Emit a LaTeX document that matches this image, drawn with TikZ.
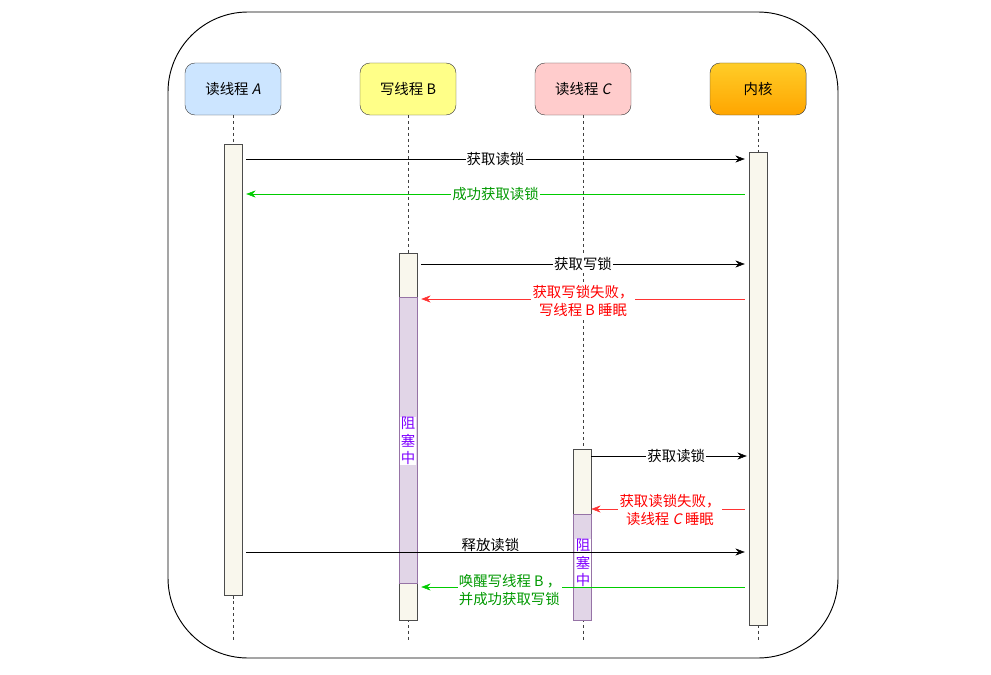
\documentclass[tikz,border=0pt]{standalone}
\usepackage{fontspec}
\setmainfont{Noto Sans CJK SC}
\newfontfamily\slantcjk[FakeSlant=0.2]{Noto Sans CJK SC}
\usetikzlibrary{arrows.meta,fit}

\definecolor{threadA}{HTML}{CCE5FF}
\definecolor{threadB}{HTML}{FFFF88}
\definecolor{threadC}{HTML}{FFCCCC}
\definecolor{kernTop}{HTML}{FFCD28}
\definecolor{kernBot}{HTML}{FFA500}
\definecolor{actFill}{HTML}{F9F7ED}
\definecolor{blkFill}{HTML}{E1D5E7}
\definecolor{blkDraw}{HTML}{9673A6}
\definecolor{blkText}{HTML}{7F00FF}
\definecolor{okLine}{HTML}{00CC00}
\definecolor{okText}{HTML}{009900}
\definecolor{failLine}{HTML}{FF3333}
\definecolor{failText}{HTML}{FF0000}

\begin{document}
\begin{tikzpicture}[x=0.03cm, y=-0.03cm, inner sep=1pt,
    txt/.style={font=\fontsize{12.3}{14.7}\selectfont},
    head/.style={txt, draw=black!75, rounded corners=0.3cm,
      minimum width=2.88cm, minimum height=1.56cm},
    life/.style={black!75, dash pattern=on 2.5pt off 2.5pt},
    act/.style={draw=black!70, fill=actFill, inner sep=0pt},
    blk/.style={draw=blkDraw, fill=blkFill, inner sep=0pt},
    blocked/.style={txt, fill=white, text=blkText, align=center, inner sep=0.5pt},
    msg/.style={-{Stealth[length=8pt,width=6pt]}, shorten <=0.12cm, shorten >=0.12cm},
    lbl/.style={txt, fill=white, align=center}]
  \useasboundingbox (0,0) rectangle (991,674);
  \draw[line width=0.8pt, rounded corners=2.4cm] (168,12) rectangle (838,658);

  % lifeline heads
  \node[head, fill=threadA] (thA) at (233,89) {读线程 {\slantcjk A}};
  \node[head, fill=threadB] (thB) at (408,89) {写线程 B};
  \node[head, fill=threadC] (thC) at (583,89) {读线程 {\slantcjk C}};
  \node[head, top color=kernTop, bottom color=kernBot] (kern) at (758,89) {内核};

  \coordinate (endA) at (233,640);
  \coordinate (endB) at (408,640);
  \coordinate (endC) at (583,640);
  \coordinate (endK) at (758,640);
  \draw[life] (thA) -- (endA);
  \draw[life] (thB) -- (endB);
  \draw[life] (thC) -- (endC);
  \draw[life] (kern) -- (endK);

  % activations
  \node[act, fit={(224,144) (242,595)}] (actA) {};
  \node[act, fit={(399,253) (417,620)}] (actB) {};
  \node[blk, fit={(399,297) (417,583)}] (blkB) {};
  \node[act, fit={(573,449) (591,620)}] (actC) {};
  \node[blk, fit={(573,514) (591,620)}] (blkC) {};
  \node[act, fit={(749,152) (767,625)}] (actK) {};
  \node[blocked] (waitB) at (408,441) {阻\\塞\\中};
  \node[blocked] (waitC) at (583,563) {阻\\塞\\中};

  % message rows
  \coordinate (m1) at (0,159);
  \coordinate (m2) at (0,194);
  \coordinate (m3) at (0,264);
  \coordinate (m4) at (0,299);
  \coordinate (m5) at (0,456);
  \coordinate (m6) at (0,509);
  \coordinate (m7) at (0,552);
  \coordinate (m8) at (0,587);

  \draw[msg] (actA.east |- m1) -- (actK.west |- m1) node[midway, lbl] {获取读锁};
  \draw[msg, okLine] (actK.west |- m2) -- (actA.east |- m2)
    node[midway, lbl, text=okText] {成功获取读锁};
  \draw[msg] (actB.east |- m3) -- (actK.west |- m3) node[midway, lbl] {获取写锁};
  \draw[msg, failLine] (actK.west |- m4) -- (actB.east |- m4)
    node[midway, lbl, text=failText, yshift=-0.06cm] {获取写锁失败，\\写线程 B 睡眠};
  \draw[msg, shorten <=0pt, shorten >=0.06cm] (actC.east |- m5) -- (actK.west |- m5)
    node[pos=0.54, lbl] {获取读锁};
  \draw[msg, failLine, shorten >=0pt] (actK.west |- m6) -- (actC.east |- m6)
    node[midway, lbl, text=failText, yshift=-0.03cm] {获取读锁失败，\\读线程 {\slantcjk C} 睡眠};
  \draw[msg] (actA.east |- m7) -- (actK.west |- m7) node[pos=0.49, above, txt, inner sep=0pt] {释放读锁};
  \draw[msg, okLine] (actK.west |- m8) -- (actB.east |- m8)
    node[pos=0.72, lbl, text=okText, align=left, yshift=-0.09cm] {唤醒写线程 B ，\\并成功获取写锁};
\end{tikzpicture}
\end{document}
